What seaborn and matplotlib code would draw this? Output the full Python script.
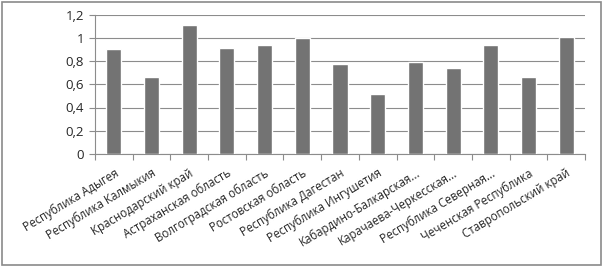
import matplotlib
matplotlib.use("Agg")
import matplotlib.pyplot as plt
import seaborn as sns
import numpy as np
import pandas as pd
from matplotlib.patches import Rectangle
from matplotlib.ticker import FixedLocator, FuncFormatter

# Data
regions = ["Республика Адыгея", "Республика Калмыкия", "Краснодарский край",
           "Астраханская область", "Волгоградская область", "Ростовская область",
           "Республика Дагестан", "Республика Ингушетия", "Кабардино-Балкарская...",
           "Карачаева-Черкесская...", "Республика Северная...", "Чеченская Республика",
           "Ставропольский край"]
values = [0.90, 0.66, 1.11, 0.91, 0.935, 1.0, 0.77, 0.515, 0.795, 0.74, 0.935, 0.66, 1.01]
y_ticks = [0, 0.2, 0.4, 0.6, 0.8, 1.0, 1.2]

df = pd.DataFrame({"region": regions, "value": values})

sns.set_style("white")
plt.rcParams['font.family'] = ['Open Sans', 'DejaVu Sans']

fig = plt.figure(figsize=(6.04, 2.67), dpi=100)
ax = fig.add_axes([95/604, 1 - 154/267, 490/604, 139.5/267])

sns.barplot(data=df, x="region", y="value", color="#737373", width=0.4,
            saturation=1, ax=ax, zorder=3)

ax.set_ylim(0, 1.2)
ax.set_xlim(-0.5, len(regions) - 0.5)
ax.yaxis.set_major_locator(FixedLocator(y_ticks))
ax.yaxis.set_major_formatter(FuncFormatter(lambda v, p: f"{v:g}".replace(".", ",")))
ax.grid(axis="y", color="#8c8c8c", linewidth=0.8, zorder=0)
ax.set_xlabel("")
ax.set_ylabel("")

for s in ["top", "right"]:
    ax.spines[s].set_visible(False)
for s in ["left", "bottom"]:
    ax.spines[s].set_color("#8c8c8c")
    ax.spines[s].set_linewidth(0.8)

ax.tick_params(axis="y", direction="out", length=4, width=0.8, color="#8c8c8c",
               labelsize=9.5, pad=4, left=True)
ax.set_xticks(range(len(regions)))
ax.set_xticklabels(regions, rotation=31, ha="right", rotation_mode="anchor", fontsize=8.3)
ax.tick_params(axis="x", which="major", length=0, pad=9)
ax.xaxis.set_minor_locator(FixedLocator(np.arange(-0.5, len(regions), 1.0)))
ax.tick_params(axis="x", which="minor", direction="out", length=4, width=0.8,
               color="#8c8c8c", bottom=True)

# outer frame
fig.patches.append(Rectangle((0.003, 0.006), 0.992, 0.988, transform=fig.transFigure,
                             fill=False, edgecolor="#8a8a8a", linewidth=1.2))

fig.savefig("out.png", dpi=100)
